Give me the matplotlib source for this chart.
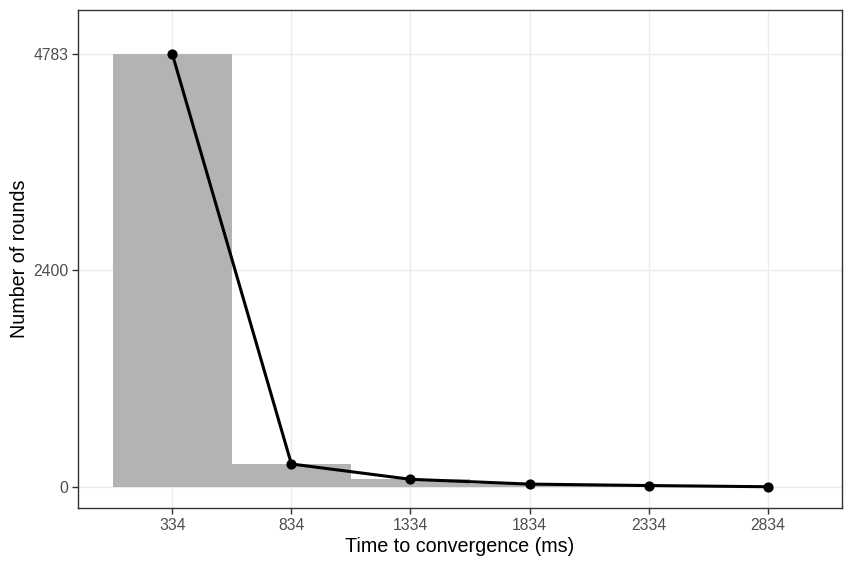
import matplotlib
matplotlib.use("Agg")
import matplotlib.pyplot as plt

# data
times = [334, 834, 1334, 1834, 2334, 2834]
rounds = [4783, 254, 85, 32, 16, 3]
bin_width = 500
y_ticks = [0, 2400, 4783]

plt.rcParams['font.family'] = ['Liberation Sans', 'DejaVu Sans']

fig = plt.figure(figsize=(8.51, 5.66), dpi=100)
ax = fig.add_axes([78 / 851, 58 / 566, (842 - 78) / 851, (556 - 58) / 566])

# histogram bars
ax.bar(times, rounds, width=bin_width, color='#B3B3B3', zorder=2)
# line + points
ax.plot(times, rounds, color='black', lw=2.2, zorder=3)
ax.scatter(times, rounds, color='black', s=40, zorder=4)

ax.set_xlim(-62, 3146)
ax.set_ylim(-232, 5269)
ax.set_xticks(times)
ax.set_yticks(y_ticks)

ax.grid(True, color='#EBEBEB', lw=1.0, zorder=0)
ax.set_axisbelow(True)
for s in ax.spines.values():
    s.set_color('#333333')
    s.set_linewidth(1.0)
ax.tick_params(colors='#333333', length=4, width=1.0, labelsize=11.3,
               labelcolor='#4D4D4D', pad=3)

ax.set_xlabel("Time to convergence (ms)", fontsize=14.2, labelpad=3)
ax.set_ylabel("Number of rounds", fontsize=14.2, labelpad=3)

fig.savefig("out.png", dpi=100)
